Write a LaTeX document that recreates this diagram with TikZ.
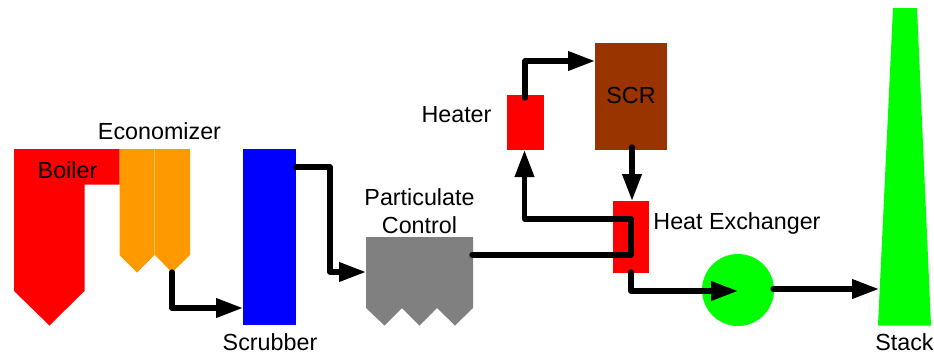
\documentclass[tikz,border=0pt]{standalone}
\usepackage{fontspec}
\setmainfont{Liberation Sans}
\usetikzlibrary{arrows.meta}
\definecolor{boilred}{RGB}{255,0,0}
\definecolor{econ}{RGB}{255,153,0}
\definecolor{scrub}{RGB}{0,0,255}
\definecolor{partic}{RGB}{128,128,128}
\definecolor{scrbrown}{RGB}{153,51,0}
\definecolor{fangreen}{RGB}{0,255,0}
\tikzset{
  box/.style={rectangle,inner sep=0pt,outer sep=0pt,draw=none},
  lbl/.style={inner sep=0pt,outer sep=0pt,font=\fontsize{23.3}{27.5}\selectfont,text=black,align=center},
  pipe/.style={line width=5.4pt,line join=round,line cap=round,draw=black},
  flow/.style={pipe,-{Triangle[length=27pt,width=18.5pt]}},
}
\begin{document}
\begin{tikzpicture}[x=1pt,y=-1pt]
\useasboundingbox (0,0) rectangle (934,354);
% shapes
\fill[boilred] (14,149) -- (119.5,149) -- (119.5,184.5) -- (84.5,184.5) -- (84.5,291) -- (49.5,325.5) -- (14,291) -- cycle;
\fill[econ] (119.5,149) -- (154.5,149) -- (154.5,255) -- (137,272.5) -- (119.5,255) -- cycle;
\fill[econ] (155,149) -- (190,149) -- (190,255) -- (172,272.5) -- (155,255) -- cycle;
\fill[partic] (366,237) -- (473,237) -- (473,308) -- (455,325.5) -- (437,308) -- (419.5,325.5) -- (402,308) -- (384.5,325.5) -- (366,308) -- cycle;
\fill[fangreen] (893,8) -- (917,8) -- (931,325.5) -- (878,325.5) -- cycle;
\node[box,fill=scrub,minimum width=53pt,minimum height=176.5pt] (scrubber) at (269.5,237) {};
\node[box,fill=boilred,minimum width=36.5pt,minimum height=72pt] (hx) at (631,237) {};
\node[box,fill=boilred,minimum width=37pt,minimum height=55pt] (heater) at (525.5,122.5) {};
\node[box,fill=scrbrown,minimum width=72pt,minimum height=107pt] (scr) at (631,96.5) {};
\node[circle,inner sep=0pt,outer sep=0pt,fill=fangreen,minimum size=72pt] (fan) at (738,290) {};
% ports
\coordinate (econtip) at (172,272);
\coordinate (scrubin) at (243,308);
\coordinate (scrubout) at (296,167);
\coordinate (particin) at (366,272);
\coordinate (particout) at (472,255);
\coordinate (hxbend) at (631,255);
\coordinate (hxtop) at (631,219);
\coordinate (heaterin) at (524.5,150);
\coordinate (heaterout) at (525,98);
\coordinate (scrin) at (595,61);
\coordinate (scrout) at (632,147);
\coordinate (hxin) at (632,201);
\coordinate (hxout) at (631,272);
\coordinate (fanin) at (738,291);
\coordinate (fanout) at (773,289);
\coordinate (stackin) at (879,289);
% connectors
\draw[flow] (econtip) |- (scrubin);
\draw[flow] (scrubout) -| (330,220) |- (particin);
\draw[flow] (particout) -- (hxbend) -- (hxtop) -| (heaterin);
\draw[flow] (heaterout) |- (scrin);
\draw[flow] (scrout) -- (hxin);
\draw[flow] (hxout) |- (fanin);
\draw[flow] (fanout) -- (stackin);
% labels
\node[lbl] (lboiler) at (67.5,170) {Boiler};
\node[lbl] (lecon) at (159.5,131.5) {Economizer};
\node[lbl] (lscrub) at (270,342.5) {Scrubber};
\node[lbl] (lpart) at (419.5,211) {Particulate\\Control};
\node[lbl] (lheater) at (456.5,115) {Heater};
\node[lbl] (lscr) at (631,95) {SCR};
\node[lbl] (lhx) at (737,223.5) {Heat Exchanger};
\node[lbl] (lstack) at (904.5,342.5) {Stack};
\end{tikzpicture}
\end{document}
